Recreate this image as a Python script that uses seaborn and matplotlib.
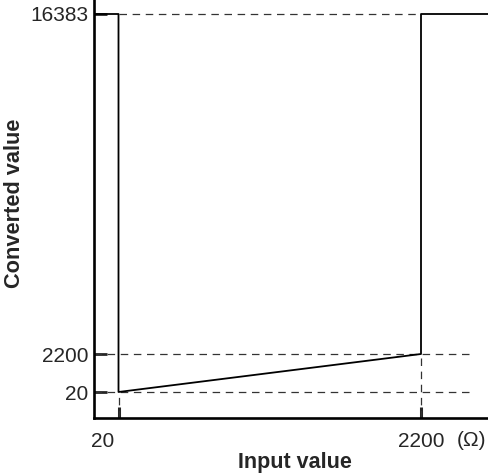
import numpy as np
import matplotlib
matplotlib.use("Agg")
import matplotlib.pyplot as plt
import matplotlib.transforms as mtransforms
import seaborn as sns
import pandas as pd

# ---- data ----
x_ticks = [20, 2200]
y_ticks = [20, 2200, 16383]
x_tick_labels = ["20", "2200"]
y_tick_labels = ["20", "2200", "16383"]
curve_x = [0, 20, 20, 2200, 2200, 2683]
curve_y = [16383, 16383, 20, 2200, 16383, 16383]
guide_h_levels = [20, 2200]
guide_h_end = 2568
x_limits = (0, 2683)
y_limits = (0, 16967)

# piecewise scale anchors (value -> relative position)
x_anchor_v = [0, 20, 2200, 2683]
x_anchor_p = [0, 24.5, 327, 394]
y_anchor_v = [0, 20, 2200, 16967]
y_anchor_p = [0, 26, 64, 418]


def make_funcs(av, ap):
    av = np.asarray(av, float)
    ap = np.asarray(ap, float)

    def fwd(v):
        v = np.asarray(v, float)
        out = np.interp(v, av, ap)
        lo = v < av[0]
        hi = v > av[-1]
        s0 = (ap[1] - ap[0]) / (av[1] - av[0])
        s1 = (ap[-1] - ap[-2]) / (av[-1] - av[-2])
        out = np.where(lo, ap[0] + (v - av[0]) * s0, out)
        out = np.where(hi, ap[-1] + (v - av[-1]) * s1, out)
        return out

    def inv(p):
        p = np.asarray(p, float)
        out = np.interp(p, ap, av)
        lo = p < ap[0]
        hi = p > ap[-1]
        s0 = (av[1] - av[0]) / (ap[1] - ap[0])
        s1 = (av[-1] - av[-2]) / (ap[-1] - ap[-2])
        out = np.where(lo, av[0] + (p - ap[0]) * s0, out)
        out = np.where(hi, av[-1] + (p - ap[-1]) * s1, out)
        return out

    return fwd, inv


sns.set_style("ticks")
plt.rcParams["font.family"] = ["Liberation Sans", "DejaVu Sans"]

fig = plt.figure(figsize=(4.88, 4.73), dpi=100)
ax = fig.add_axes([94 / 488, 55 / 473, 394 / 488, 418 / 473])

ax.set_xscale("function", functions=make_funcs(x_anchor_v, x_anchor_p))
ax.set_yscale("function", functions=make_funcs(y_anchor_v, y_anchor_p))
ax.set_xlim(*x_limits)
ax.set_ylim(*y_limits)

dash_kw = dict(color="#333333", linewidth=0.9, linestyles=(0, (6, 4.5)), zorder=1)
ax.hlines(guide_h_levels, x_limits[0], guide_h_end, **dash_kw)
ax.hlines([y_ticks[-1]], x_ticks[0], x_ticks[1], **dash_kw)
ax.vlines(x_ticks, y_limits[0], [y_ticks[0], y_ticks[1]], **dash_kw)

df = pd.DataFrame({"x": curve_x, "y": curve_y, "order": range(len(curve_x))})
sns.lineplot(data=df, x="x", y="y", sort=False, estimator=None, ax=ax,
             color="black", linewidth=1.3, zorder=3)

for side in ["top", "right"]:
    ax.spines[side].set_visible(False)
for side in ["left", "bottom"]:
    ax.spines[side].set_linewidth(1.9)
    ax.spines[side].set_color("black")

ax.set_xticks(x_ticks)
ax.set_xticklabels(x_tick_labels)
ax.set_yticks(y_ticks)
ax.set_yticklabels(y_tick_labels)
ax.minorticks_off()
ax.tick_params(axis="x", direction="in", length=8, width=2.2, pad=10, labelsize=15)
ax.tick_params(axis="y", direction="in", length=9.5, width=2.0, pad=4, labelsize=15)

# first x tick label sits a little to the left of its tick
first_lbl = ax.get_xticklabels()[0]
first_lbl.set_transform(first_lbl.get_transform() +
                        mtransforms.ScaledTranslation(-16 / 100, 0, fig.dpi_scale_trans))

ax.set_xlabel("Input value", fontsize=15.5, fontweight="bold")
ax.set_ylabel("Converted value", fontsize=15.7, fontweight="bold")
ax.xaxis.set_label_coords((295 - 94) / 394, -(452 - 418) / 418)
ax.yaxis.set_label_coords(-(94 - 25) / 394, (418 - 203) / 418)

fig.text(471 / 488, 1 - 440 / 473, "(Ω)", ha="center", va="center", fontsize=15)

fig.savefig("out.png", dpi=100)
